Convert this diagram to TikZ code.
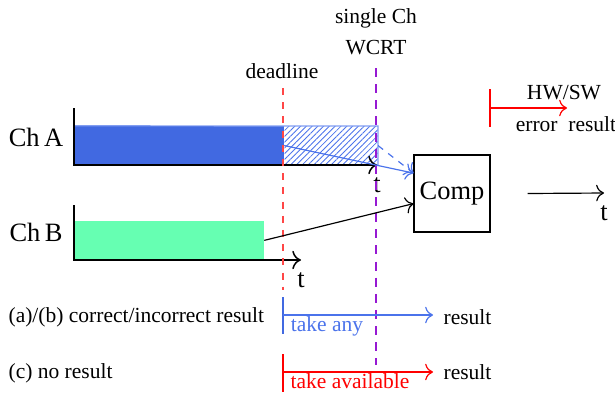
\documentclass[tikz,border=0pt]{standalone}
\usepackage{fontspec}
\setmainfont{Liberation Serif}
\usetikzlibrary{arrows.meta,patterns.meta,positioning}

\definecolor{chablue}{RGB}{65,105,225}
\definecolor{lineblue}{RGB}{75,115,235}
\definecolor{chbgreen}{RGB}{102,255,178}
\definecolor{wcrtviolet}{RGB}{150,25,210}
\definecolor{deadred}{RGB}{255,70,70}

\begin{document}
\begin{tikzpicture}[>={To[scale=1.3]}, x=0.465pt, y=-0.465pt, node distance=5.5pt, line width=0.55pt,
	big/.style={inner sep=0pt, font=\fontsize{12.3}{14}\selectfont},
	small/.style={inner sep=0pt, font=\fontsize{10}{12}\selectfont},
	bar/.style={draw=none, inner sep=0pt, minimum height=17.7pt, anchor=south west},
	axis/.style={line width=0.7pt},
	tick/.style={line width=1.1pt}]
	\useasboundingbox (0,0) rectangle (615,392);

	% Nodes {labels}
	\node [small] (single) at (376,18) {single Ch};
	\node [small] (wcrt)   at (376,48) {WCRT};
	\node [small] (dead)   at (282,71) {deadline};
	\node [big]   (chA)    at (36,137) {Ch\,A};
	\node [big]   (chB)    at (36,232) {Ch\,B};

	% Nodes {bars, Comp}
	\node [bar, fill=chablue, minimum width=97.2pt] (barA) at (74,165) {};
	\node [bar, pattern={Lines[angle=45,distance=1.9pt,line width=0.4pt]}, pattern color=lineblue, minimum width=43.2pt] (hatchA) at (barA.south east) {};
	\node [bar, fill=chbgreen, minimum width=87.9pt] (barB) at (74,260) {};
	\node [draw, big, minimum width=35.3pt, minimum height=35.8pt] (comp) at (452,193.5) {Comp};

	% Coordinates {axes, lines}
	\coordinate (yA) at (74,108);
	\coordinate (tA) at (377,165);
	\coordinate (yB) at (74,205);
	\coordinate (tB) at (301,260);
	\coordinate (deadTop) at (283,88);
	\coordinate (deadEnd) at (283,290);
	\coordinate (wcrtTop) at (376,68);
	\coordinate (wcrtEnd) at (376,365);
	\coordinate (inA) at ([yshift=9.5pt]comp.west);
	\coordinate (inB) at ([yshift=-4.7pt]comp.west);
	\coordinate (outS) at ([xshift=17.2pt]comp.east);
	\coordinate (outE) at (604,193);
	\coordinate (hwTop) at (490,89);
	\coordinate (hwBot) at (490,127);
	\coordinate (hwMid) at (490,108);
	\coordinate (hwEnd) at (567,108);
	\coordinate (anyTop) at (283,297);
	\coordinate (anyBot) at (283,334);
	\coordinate (anyMid) at (283,315);
	\coordinate (anyEnd) at (433,315);
	\coordinate (avTop) at (283,354);
	\coordinate (avBot) at (283,392);
	\coordinate (avMid) at (283,372);
	\coordinate (avEnd) at (433,372);

	% Nodes {t labels, results}
	\node [big] (tAlab) [below=of tA]   {t};
	\node [big] (tBlab) [below=of tB]   {t};
	\node [big] (tClab) [below=of outE] {t};
	\node [small] (hwsw) at (564,93)  {HW/SW};
	\node [small] (err)  at (566,124) {error\ \ result};
	\node [small, anchor=west] (rowAB) at (8,317) {(a)/(b) correct/incorrect result};
	\node [small, anchor=west] (rowC)  at (8,373) {(c) no result};
	\node [small, text=lineblue] (any)   at (327,326) {take any};
	\node [small, text=red]      (avail) at (350,381) {take available};
	\node [small, anchor=west] (res1) at (443,317) {result};
	\node [small, anchor=west] (res2) at (443,372) {result};

	% Paths
	\draw [lineblue!70] (barA.north west) -- (hatchA.north east) -- (hatchA.south east);
	\draw [axis, ->] (yA) |- (tA);
	\draw [axis, ->] (yB) |- (tB);
	\draw [deadred, line width=0.6pt, dash pattern=on 3.3pt off 3.3pt] (deadTop) -- (deadEnd);
	\draw [wcrtviolet, line width=1pt, dash pattern=on 4.2pt off 3.3pt] (wcrtTop) -- (wcrtEnd);
	\draw [lineblue, ->] (hatchA.west) -- (inA);
	\draw [lineblue, dashed, ->] (hatchA.east) -- (inA);
	\draw [->] (barB.east) -- (inB);
	\draw [->] (outS) -- (outE);
	\draw [red, tick] (hwTop) -- (hwBot);
	\draw [red, ->] (hwMid) -- (hwEnd);
	\draw [chablue, tick] (anyTop) -- (anyBot);
	\draw [lineblue, ->] (anyMid) -- (anyEnd);
	\draw [red, tick] (avTop) -- (avBot);
	\draw [red, ->] (avMid) -- (avEnd);
\end{tikzpicture}
\end{document}
